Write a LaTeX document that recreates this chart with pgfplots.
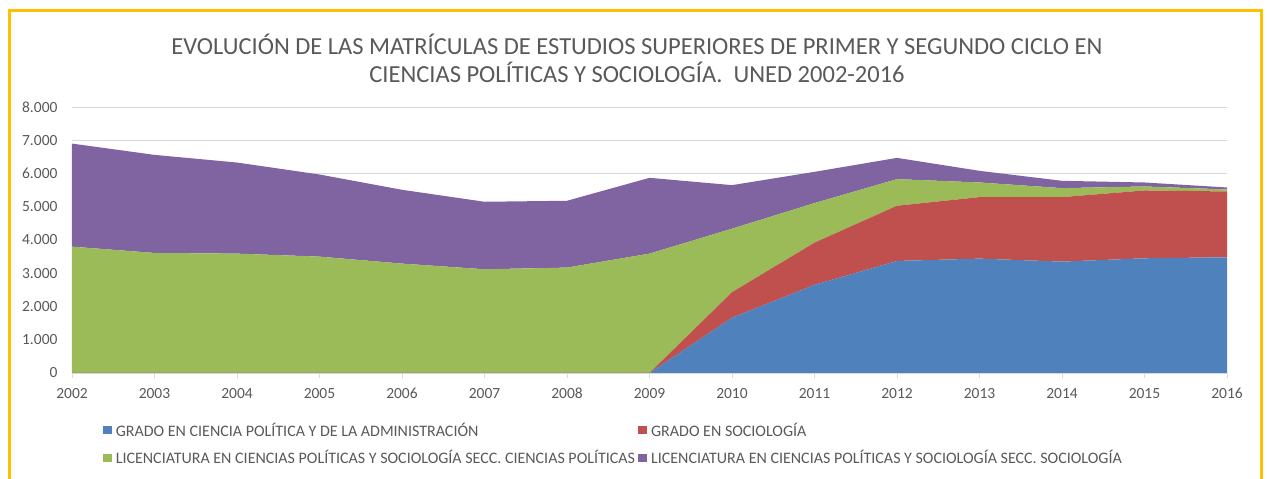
\documentclass[border=0pt]{standalone}
\usepackage{fontspec}
\setmainfont{Carlito}
\usepackage{pgfplots}
\pgfplotsset{compat=1.18}

\definecolor{cpblue}{HTML}{4F81BD}
\definecolor{socred}{HTML}{C0504D}
\definecolor{lcpgreen}{HTML}{9BBB59}
\definecolor{lsocpurple}{HTML}{8064A2}
\definecolor{frameorange}{HTML}{FFC000}
\definecolor{txtgray}{HTML}{595959}
\definecolor{gridgray}{HTML}{D9D9D9}

\begin{document}
\begin{tikzpicture}[x=1pt,y=1pt]
\useasboundingbox (0,0) rectangle (1267,479);
\begin{scope}
  \clip (0,0) rectangle (1267,479);
  \draw[line width=3pt, frameorange] (9.5,-20) rectangle (1261.5,468.5);
\end{scope}

\node[align=center, text=txtgray, font=\fontsize{24.5}{28}\selectfont] at (637,421)
  {EVOLUCIÓN\ DE LAS MATRÍCULAS DE ESTUDIOS SUPERIORES DE PRIMER Y SEGUNDO CICLO\ EN\\
   CIENCIAS\ POLÍTICAS Y SOCIOLOGÍA.\ \ UNED 2002-2016};

\begin{axis}[
  at={(72pt,106pt)}, anchor=south west,
  scale only axis, width=1155pt, height=266pt,
  xmin=2002, xmax=2016, ymin=0, ymax=8000,
  xtick={2002,2003,...,2016},
  ytick={0,1000,...,8000},
  stack plots=y,
  axis x line*=bottom, axis y line*=left,
  x axis line style={draw=gridgray, line width=0.8pt, -},
  y axis line style={draw=none},
  ymajorgrids, grid style={gridgray, line width=0.8pt},
  tick align=outside,
  xtick style={draw=gridgray, line width=0.8pt},
  ytick style={draw=none},
  major tick length=5pt,
  ticklabel style={text=txtgray, font=\fontsize{15.5}{18}\selectfont},
  /pgf/number format/assume math mode=true,
  xticklabel style={/pgf/number format/1000 sep={}, anchor=north,
    text height=10pt, text depth=0pt, yshift=-7pt},
  yticklabel style={/pgf/number format/1000 sep={.}, xshift=-6pt},
  legend columns=2,
  legend cell align=left,
  legend style={
    at={(0.0265,-0.267)}, anchor=west,
    draw=none, fill=none, inner sep=0pt,
    font=\fontsize{16}{18}\selectfont, text=txtgray,
    row sep=13pt,
    nodes={inner sep=0pt},
    /tikz/every odd column/.append style={column sep=4pt},
    /tikz/every even column/.append style={column sep=3pt},
  },
  legend image code/.code={\fill[#1] (0pt,-4pt) rectangle (9pt,4pt);},
]
\addplot[fill=cpblue, draw=none] coordinates {
  (2002,0) (2003,0) (2004,0) (2005,0) (2006,0) (2007,0) (2008,0) (2009,0)
  (2010,1660) (2011,2650) (2012,3370) (2013,3440) (2014,3350) (2015,3450) (2016,3480)
} \closedcycle;
\addlegendentry{GRADO EN CIENCIA POLÍTICA Y DE LA ADMINISTRACIÓN}
\addplot[fill=socred, draw=none] coordinates {
  (2002,0) (2003,0) (2004,0) (2005,0) (2006,0) (2007,0) (2008,0) (2009,0)
  (2010,770) (2011,1270) (2012,1660) (2013,1850) (2014,1940) (2015,2040) (2016,1980)
} \closedcycle;
\addlegendentry{GRADO EN SOCIOLOGÍA}
\addplot[fill=lcpgreen, draw=none] coordinates {
  (2002,3800) (2003,3610) (2004,3590) (2005,3500) (2006,3290) (2007,3120) (2008,3170) (2009,3590)
  (2010,1910) (2011,1190) (2012,800) (2013,440) (2014,270) (2015,120) (2016,60)
} \closedcycle;
\addlegendentry{LICENCIATURA EN CIENCIAS POLÍTICAS Y SOCIOLOGÍA SECC. CIENCIAS POLÍTICAS}
\addplot[fill=lsocpurple, draw=none] coordinates {
  (2002,3100) (2003,2950) (2004,2740) (2005,2470) (2006,2220) (2007,2030) (2008,2010) (2009,2280)
  (2010,1310) (2011,940) (2012,640) (2013,350) (2014,220) (2015,120) (2016,60)
} \closedcycle;
\addlegendentry{LICENCIATURA EN CIENCIAS POLÍTICAS Y SOCIOLOGÍA SECC. SOCIOLOGÍA}
\end{axis}
\end{tikzpicture}
\end{document}
